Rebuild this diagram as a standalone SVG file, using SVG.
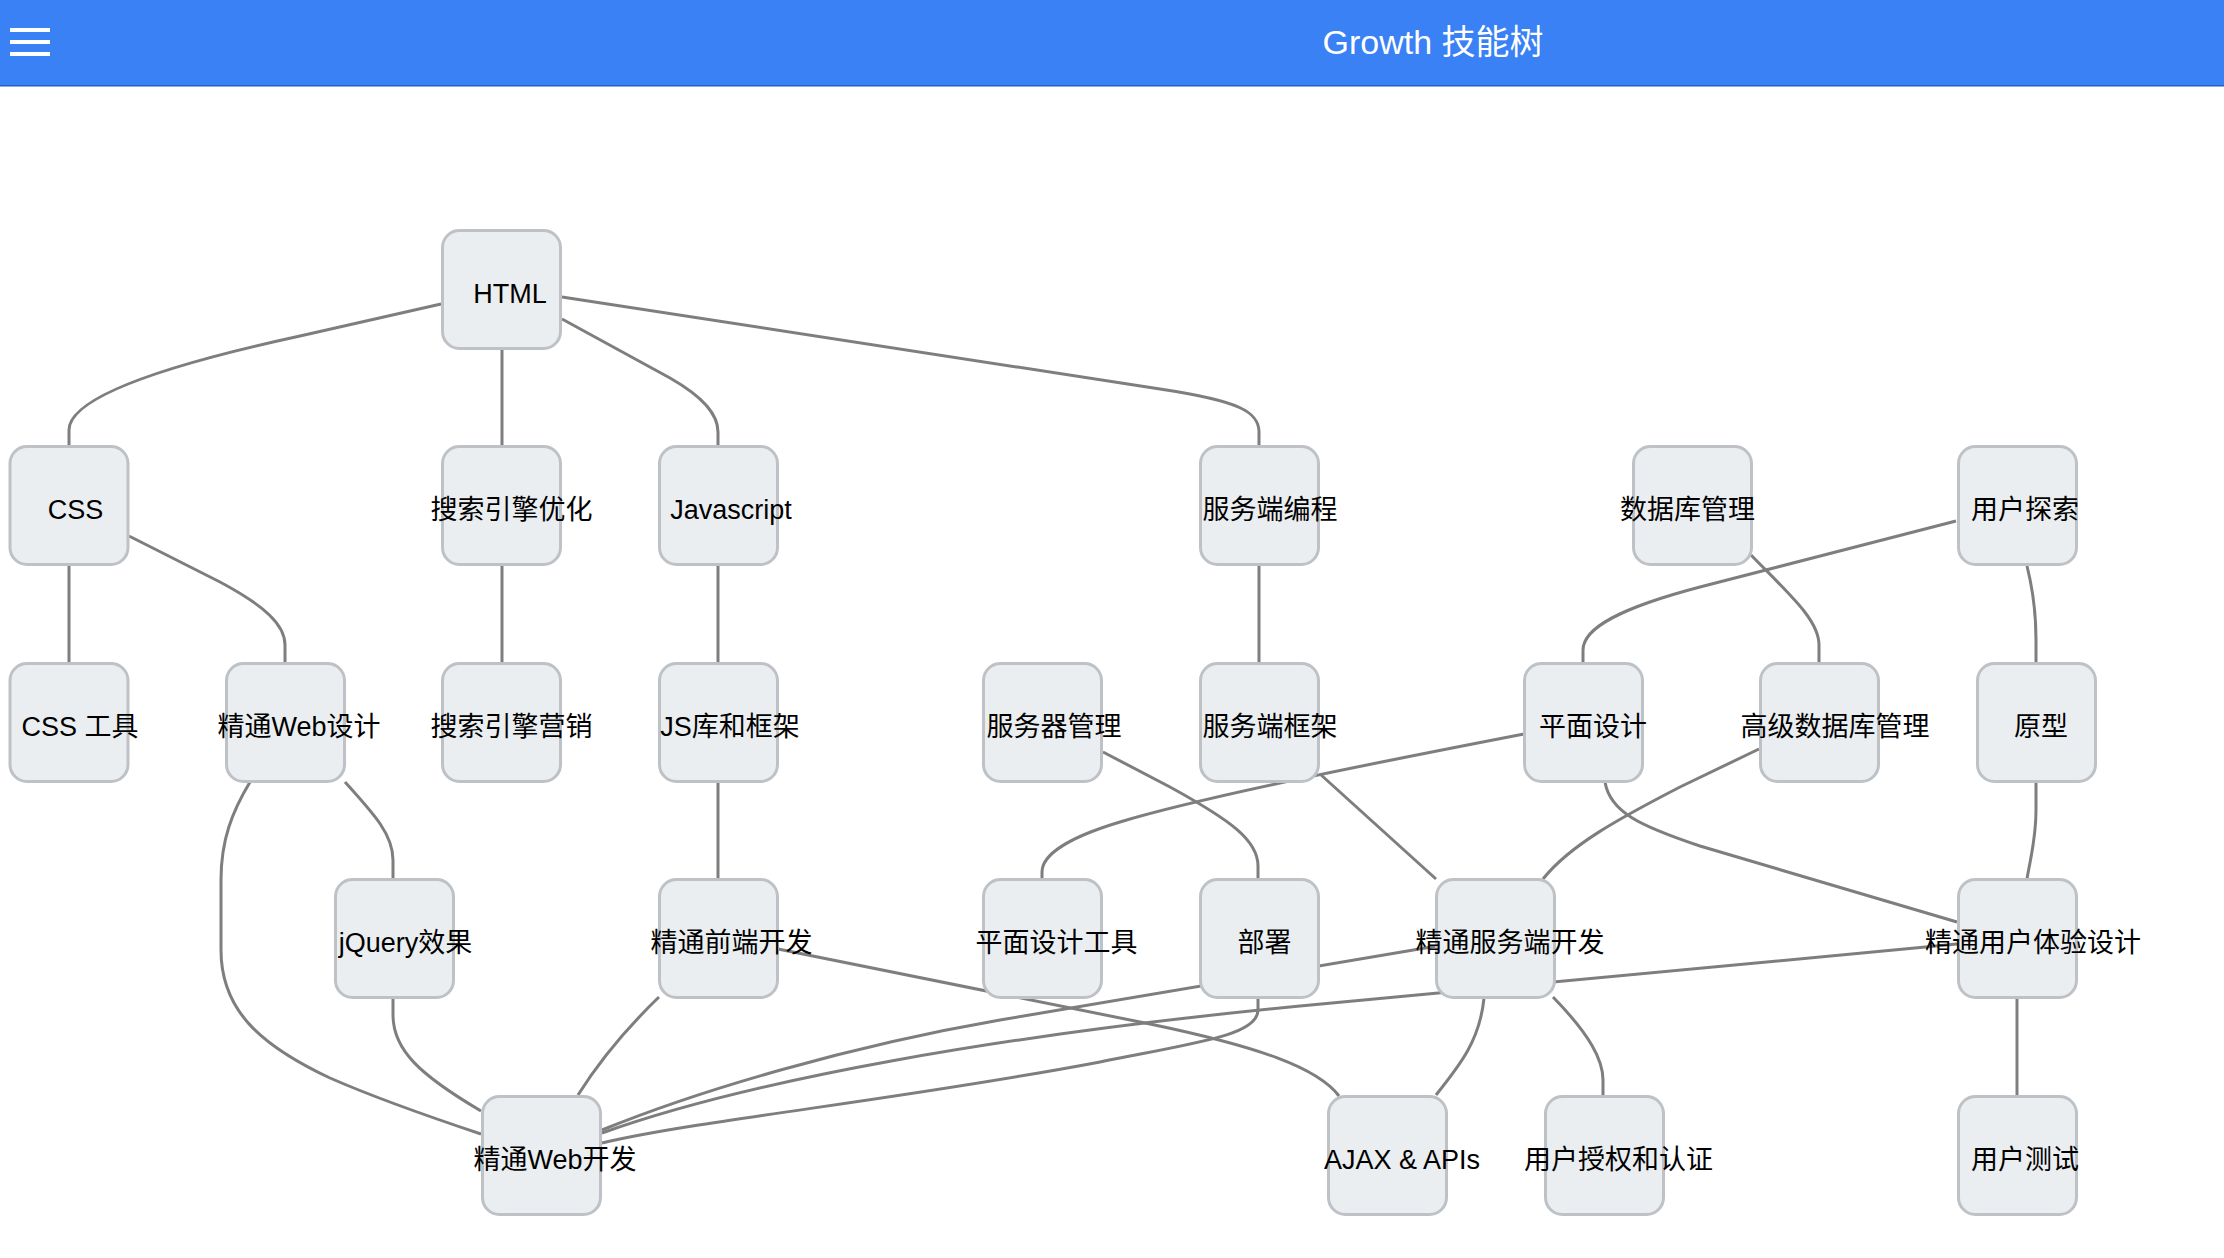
<svg xmlns="http://www.w3.org/2000/svg" width="2224" height="1258" viewBox="0 0 2224 1258">
<defs>
<style>
.edge{fill:none;stroke:#7e7e7e;stroke-width:3}
.node rect{fill:#ebeef0;stroke:#bec2c6;stroke-width:3}
.node text{font-family:"Liberation Sans","Noto Sans CJK SC",sans-serif;font-size:27px;fill:#000;text-anchor:middle}
.title{font-family:"Liberation Sans","Noto Sans CJK SC",sans-serif;font-size:34px;fill:#fff;text-anchor:middle}
</style>
</defs>
<rect width="2224" height="1258" fill="#fff"/>
<g id="header">
<rect x="0" y="0" width="2224" height="86" fill="#3981f4"/>
<rect x="0" y="85" width="2224" height="1.5" fill="#1d5fd3"/>
<rect x="10" y="28" width="40" height="4" fill="#fff"/>
<rect x="10" y="40" width="40" height="4" fill="#fff"/>
<rect x="10" y="52" width="40" height="4" fill="#fff"/>
<text class="title" x="1433" y="54">Growth 技能树</text>
</g>
<g id="connectors">
<path class="edge" d="M 441 304 L 300 336 C 180 362, 69 395, 69 430 L 69 446"/>
<path class="edge" d="M 502 350 L 502 446"/>
<path class="edge" d="M 562 319 L 670 378 C 705 398, 718 415, 718 432 L 718 446"/>
<path class="edge" d="M 562 297 L 1160 389 C 1240 401, 1259 412, 1259 432 L 1259 446"/>
<path class="edge" d="M 69 566 L 69 662"/>
<path class="edge" d="M 129 536 L 220 582 C 265 606, 285 625, 285 645 L 285 662"/>
<path class="edge" d="M 502 566 L 502 662"/>
<path class="edge" d="M 718 566 L 718 662"/>
<path class="edge" d="M 1259 566 L 1259 662"/>
<path class="edge" d="M 1751 555 C 1790 595, 1819 620, 1819 645 L 1819 662"/>
<path class="edge" d="M 1956 521 L 1700 587 C 1620 608, 1583 628, 1583 650 L 1583 662"/>
<path class="edge" d="M 2027 566 C 2033 590, 2036 610, 2036 640 L 2036 662"/>
<path class="edge" d="M 250 782 C 232 812, 221 840, 221 880 L 221 950 C 221 1010, 260 1045, 330 1078 C 380 1100, 430 1117, 481 1134"/>
<path class="edge" d="M 345 782 C 375 815, 393 835, 393 860 L 393 879"/>
<path class="edge" d="M 718 782 L 718 879"/>
<path class="edge" d="M 393 998 L 393 1015 C 393 1050, 420 1075, 481 1111"/>
<path class="edge" d="M 659 997 C 630 1025, 600 1060, 578 1095"/>
<path class="edge" d="M 778 949 L 1150 1024 C 1260 1047, 1318 1068, 1339 1096"/>
<path class="edge" d="M 1103 752 L 1170 787 C 1230 820, 1258 840, 1258 866 L 1258 879"/>
<path class="edge" d="M 1524 734 C 1400 758, 1210 795, 1120 822 C 1060 840, 1042 858, 1042 872 L 1042 879"/>
<path class="edge" d="M 1320 774 L 1436 879"/>
<path class="edge" d="M 1759 749 L 1680 787 C 1620 818, 1570 845, 1543 879"/>
<path class="edge" d="M 1605 782 C 1610 812, 1640 826, 1700 846 L 1957 922"/>
<path class="edge" d="M 2036 782 L 2036 810 C 2036 840, 2030 860, 2027 879"/>
<path class="edge" d="M 1258 998 L 1258 1010 C 1258 1035, 1200 1042, 1100 1062 C 900 1100, 700 1120, 602 1143"/>
<path class="edge" d="M 1437 946 L 1000 1020 C 850 1046, 700 1090, 602 1130"/>
<path class="edge" d="M 1957 944 L 1300 1006 C 1000 1035, 750 1080, 602 1133"/>
<path class="edge" d="M 1484 998 C 1480 1040, 1460 1065, 1436 1095"/>
<path class="edge" d="M 1553 997 C 1590 1035, 1603 1060, 1603 1080 L 1603 1095"/>
<path class="edge" d="M 2017 998 L 2017 1095"/>
</g>
<g id="n-html" class="node"><rect x="442.5" y="230.5" width="118" height="118" rx="17"/><text x="510" y="303">HTML</text></g>
<g id="n-css" class="node"><rect x="10" y="446.5" width="118" height="118" rx="17"/><text x="75.5" y="519">CSS</text></g>
<g id="n-seo" class="node"><rect x="442.5" y="446.5" width="118" height="118" rx="17"/><text x="511.5" y="519">搜索引擎优化</text></g>
<g id="n-js" class="node"><rect x="659.5" y="446.5" width="118" height="118" rx="17"/><text x="731" y="519">Javascript</text></g>
<g id="n-server" class="node"><rect x="1200.5" y="446.5" width="118" height="118" rx="17"/><text x="1270" y="519">服务端编程</text></g>
<g id="n-db" class="node"><rect x="1633.5" y="446.5" width="118" height="118" rx="17"/><text x="1687.5" y="519">数据库管理</text></g>
<g id="n-ux" class="node"><rect x="1958.5" y="446.5" width="118" height="118" rx="17"/><text x="2025" y="519">用户探索</text></g>
<g id="n-csstools" class="node"><rect x="10" y="663.5" width="118" height="118" rx="17"/><text x="80" y="736">CSS 工具</text></g>
<g id="n-webdesign" class="node"><rect x="226.5" y="663.5" width="118" height="118" rx="17"/><text x="299" y="736">精通Web设计</text></g>
<g id="n-sem" class="node"><rect x="442.5" y="663.5" width="118" height="118" rx="17"/><text x="511.5" y="736">搜索引擎营销</text></g>
<g id="n-jslib" class="node"><rect x="659.5" y="663.5" width="118" height="118" rx="17"/><text x="730" y="736">JS库和框架</text></g>
<g id="n-servermgmt" class="node"><rect x="983.5" y="663.5" width="118" height="118" rx="17"/><text x="1054" y="736">服务器管理</text></g>
<g id="n-framework" class="node"><rect x="1200.5" y="663.5" width="118" height="118" rx="17"/><text x="1270" y="736">服务端框架</text></g>
<g id="n-graphic" class="node"><rect x="1524.5" y="663.5" width="118" height="118" rx="17"/><text x="1593" y="736">平面设计</text></g>
<g id="n-advdb" class="node"><rect x="1760.5" y="663.5" width="118" height="118" rx="17"/><text x="1835" y="736">高级数据库管理</text></g>
<g id="n-proto" class="node"><rect x="1977.5" y="663.5" width="118" height="118" rx="17"/><text x="2041" y="736">原型</text></g>
<g id="n-jquery" class="node"><rect x="335.5" y="879.5" width="118" height="118" rx="17"/><text x="405.5" y="952">jQuery效果</text></g>
<g id="n-frontend" class="node"><rect x="659.5" y="879.5" width="118" height="118" rx="17"/><text x="731.5" y="952">精通前端开发</text></g>
<g id="n-gtools" class="node"><rect x="983.5" y="879.5" width="118" height="118" rx="17"/><text x="1056.5" y="952">平面设计工具</text></g>
<g id="n-deploy" class="node"><rect x="1200.5" y="879.5" width="118" height="118" rx="17"/><text x="1264.5" y="952">部署</text></g>
<g id="n-backend" class="node"><rect x="1436.5" y="879.5" width="118" height="118" rx="17"/><text x="1510" y="952">精通服务端开发</text></g>
<g id="n-uxdesign" class="node"><rect x="1958.5" y="879.5" width="118" height="118" rx="17"/><text x="2033" y="952">精通用户体验设计</text></g>
<g id="n-webdev" class="node"><rect x="482.5" y="1096.5" width="118" height="118" rx="17"/><text x="555" y="1169">精通Web开发</text></g>
<g id="n-ajax" class="node"><rect x="1328.5" y="1096.5" width="118" height="118" rx="17"/><text x="1402" y="1169">AJAX &amp; APIs</text></g>
<g id="n-auth" class="node"><rect x="1545.5" y="1096.5" width="118" height="118" rx="17"/><text x="1618.5" y="1169">用户授权和认证</text></g>
<g id="n-usertest" class="node"><rect x="1958.5" y="1096.5" width="118" height="118" rx="17"/><text x="2025" y="1169">用户测试</text></g>
</svg>
